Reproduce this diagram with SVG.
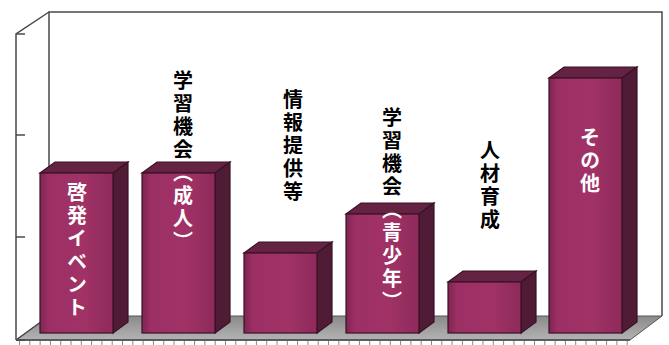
<svg xmlns="http://www.w3.org/2000/svg" width="669" height="345" viewBox="0 0 669 345">
<defs>
<linearGradient id="front" x1="0" y1="0" x2="1" y2="0">
<stop offset="0" stop-color="#7e2550"/>
<stop offset="0.12" stop-color="#9c2f64"/>
<stop offset="0.6" stop-color="#a03266"/>
<stop offset="1" stop-color="#8e2a5b"/>
</linearGradient>
<linearGradient id="floor" x1="0" y1="0" x2="0" y2="1">
<stop offset="0" stop-color="#8a8a8a"/>
<stop offset="1" stop-color="#b4b4b4"/>
</linearGradient>
<style>
.ax{fill:none;stroke:#4a4a4a;stroke-width:1.5}
.fr{fill:url(#front);stroke:#3a1226;stroke-width:1.2}
.tp{fill:#642343;stroke:#3a1226;stroke-width:1.2}
.sd{fill:#4f1b35;stroke:#3a1226;stroke-width:1.2}
.lb{font-family:"Noto Sans CJK JP","Noto Sans CJK SC",sans-serif;font-weight:bold;font-size:20px;writing-mode:vertical-rl;letter-spacing:3px}
.bk{fill:#000}
.wh{fill:#fff}
</style>
</defs>
<g id="axes">
<polygon points="16,340 49,316 662,316 630,340" fill="url(#floor)" stroke="#555" stroke-width="1"/>
<polyline class="ax" points="49,316 49,12 662,12 662,316"/>
<polyline class="ax" points="16,340 16,34 49,12"/>
<line class="ax" x1="16" y1="340" x2="49" y2="316"/>
<line class="ax" x1="16" y1="340" x2="630" y2="340"/>
<line class="ax" x1="16" y1="34" x2="25" y2="34"/>
<line class="ax" x1="16" y1="135" x2="25" y2="135"/>
<line class="ax" x1="16" y1="237" x2="25" y2="237"/>
<line class="ax" x1="16" y1="340" x2="25" y2="340"/>
<line x1="19" y1="343" x2="630" y2="343" stroke="#888" stroke-width="4" stroke-dasharray="1 9.3"/>
</g>
<g id="bar1">
<polygon class="tp" points="40,173 55,162 128,162 113,173"/>
<polygon class="sd" points="113,173 128,162 128,322 113,333"/>
<rect class="fr" x="40" y="173" width="73" height="160"/>
<text class="lb wh" x="77" y="182">啓発イベント</text>
</g>
<g id="bar2">
<polygon class="tp" points="142,173 157,162 230,162 215,173"/>
<polygon class="sd" points="215,173 230,162 230,322 215,333"/>
<rect class="fr" x="142" y="173" width="73" height="160"/>
<text class="lb" x="183" y="70"><tspan class="bk">学習機会</tspan><tspan class="wh">（成人）</tspan></text>
</g>
<g id="bar3">
<polygon class="tp" points="244,253 259,242 332,242 317,253"/>
<polygon class="sd" points="317,253 332,242 332,322 317,333"/>
<rect class="fr" x="244" y="253" width="73" height="80"/>
<text class="lb bk" x="293" y="89">情報提供等</text>
</g>
<g id="bar4">
<polygon class="tp" points="346,214 361,203 434,203 419,214"/>
<polygon class="sd" points="419,214 434,203 434,322 419,333"/>
<rect class="fr" x="346" y="214" width="73" height="119"/>
<text class="lb" x="392" y="107"><tspan class="bk">学習機会</tspan><tspan class="wh">（青少年）</tspan></text>
</g>
<g id="bar5">
<polygon class="tp" points="448,282 463,271 536,271 521,282"/>
<polygon class="sd" points="521,282 536,271 536,322 521,333"/>
<rect class="fr" x="448" y="282" width="73" height="51"/>
<text class="lb bk" x="490" y="140">人材育成</text>
</g>
<g id="bar6">
<polygon class="tp" points="549,78 564,67 637,67 622,78"/>
<polygon class="sd" points="622,78 637,67 637,322 622,333"/>
<rect class="fr" x="549" y="78" width="73" height="255"/>
<text class="lb wh" x="590" y="127">その他</text>
</g>
</svg>
